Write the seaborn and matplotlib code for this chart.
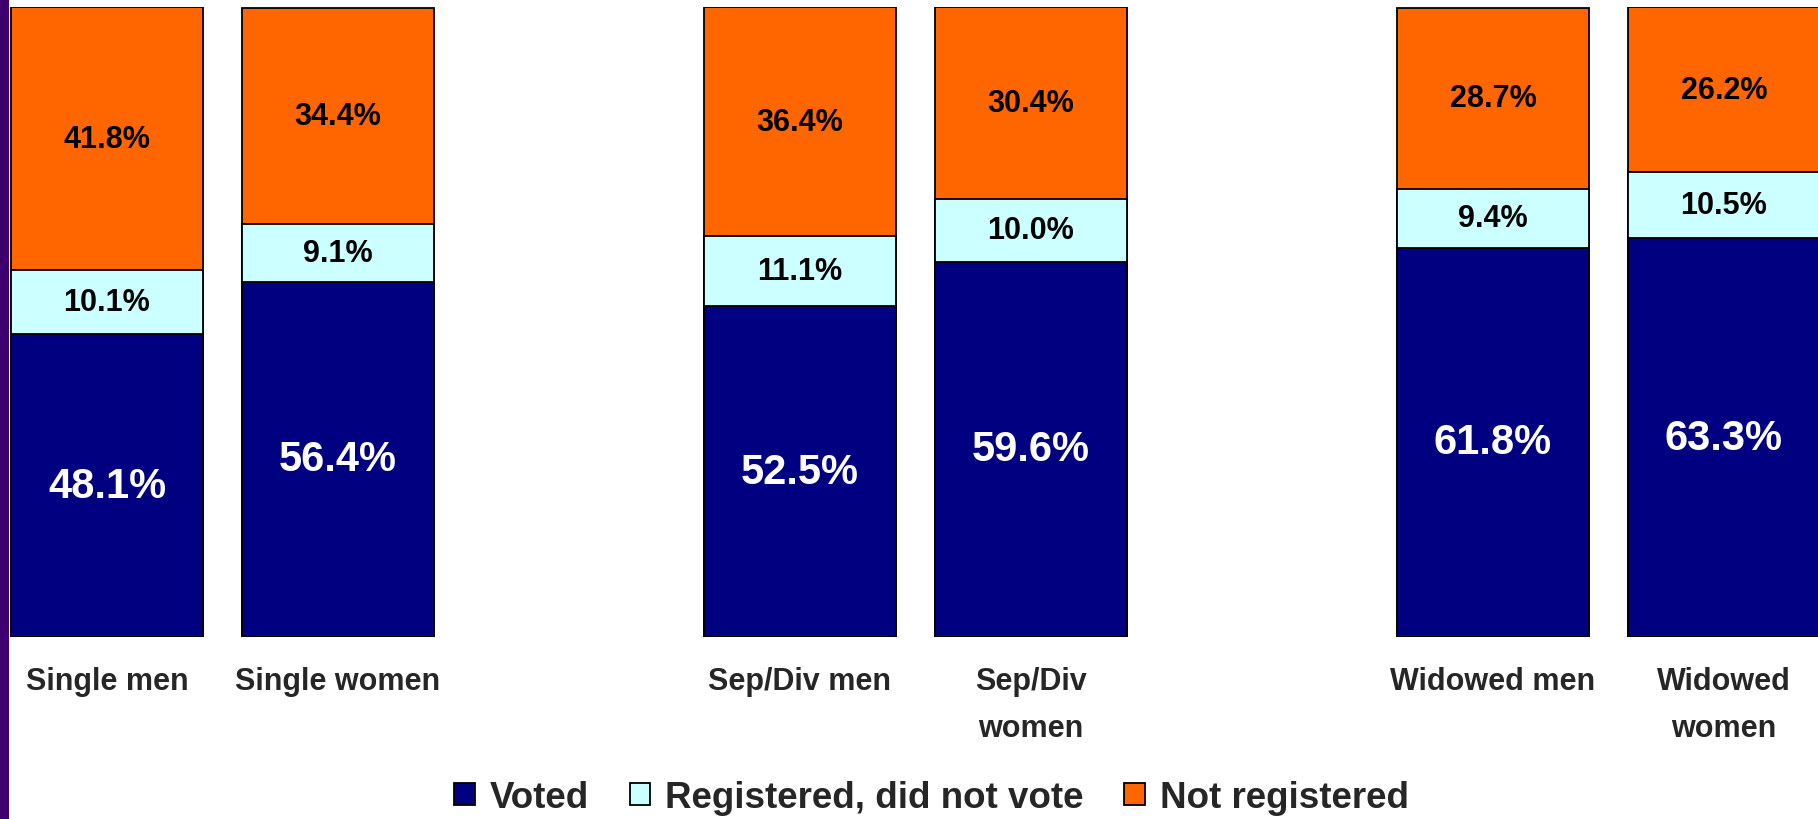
import matplotlib
matplotlib.use("Agg")
import matplotlib.pyplot as plt
from matplotlib.patches import Patch, Rectangle
import numpy as np
import pandas as pd
import seaborn as sns

# Voter participation by marital status and sex (percent)
categories = ["Single men", "Single women", "Sep/Div men", "Sep/Div\nwomen",
              "Widowed men", "Widowed\nwomen"]
voted = [48.1, 56.4, 52.5, 59.6, 61.8, 63.3]
registered_not_voted = [10.1, 9.1, 11.1, 10.0, 9.4, 10.5]
not_registered = [41.8, 34.4, 36.4, 30.4, 28.7, 26.2]
series_names = ["Voted", "Registered, did not vote", "Not registered"]

# Bars are grouped in pairs with an empty slot between groups
slots = [0, 1, 3, 4, 6, 7]

navy = "#000080"
cyan = "#CCFFFF"
orange = "#FF6600"
purple = "#3F006F"

sns.set_theme(style="white")
plt.rcParams["font.family"] = ["Liberation Sans", "DejaVu Sans"]
plt.rcParams["font.weight"] = "bold"

df = pd.DataFrame({
    "slot": slots,
    "category": categories,
    "voted": voted,
    "registered": registered_not_voted,
    "not_registered": not_registered,
})
df["top_registered"] = df["voted"] + df["registered"]
df["top_all"] = df["top_registered"] + df["not_registered"]

fig = plt.figure(figsize=(18.18, 8.2), dpi=100)
ax = fig.add_axes([0.0, 0.222, 1.0, 0.768])

# Stacked bars drawn as overlapping cumulative layers, tallest first
bar_kw = dict(native_scale=True, width=0.83, edgecolor="black", linewidth=1.3,
              errorbar=None, ax=ax, legend=False)
sns.barplot(data=df, x="slot", y="top_all", color=orange, saturation=1, **bar_kw)
sns.barplot(data=df, x="slot", y="top_registered", color=cyan, saturation=1, **bar_kw)
sns.barplot(data=df, x="slot", y="voted", color=navy, saturation=1, **bar_kw)

# Segment labels
for _, r in df.iterrows():
    ax.text(r.slot, r.voted / 2, f"{r.voted:.1f}%", ha="center", va="center",
            color="white", fontsize=30, fontweight="bold")
    ax.text(r.slot, r.voted + r.registered / 2, f"{r.registered:.1f}%",
            ha="center", va="center", color="black", fontsize=22, fontweight="bold")
    ax.text(r.slot, r.top_registered + r.not_registered / 2, f"{r.not_registered:.1f}%",
            ha="center", va="center", color="black", fontsize=22, fontweight="bold")

ax.set_xlim(-0.463, 7.407)
ax.set_ylim(0, 100)
ax.set_xticks(slots)
ax.set_xticklabels(categories, fontsize=22, fontweight="bold", linespacing=1.72)
ax.tick_params(axis="x", length=0, pad=21)
ax.set_yticks([])
ax.set_xlabel("")
ax.set_ylabel("")
for s in ax.spines.values():
    s.set_visible(False)

# Purple strip along the left edge
fig.patches.append(Rectangle((0, 0), 8.5 / 1818, 1, transform=fig.transFigure,
                             facecolor=purple, edgecolor="none", zorder=0))

handles = [Patch(facecolor=c, edgecolor="black", linewidth=1.3)
           for c in (navy, cyan, orange)]
fig.legend(handles, series_names, loc="center", bbox_to_anchor=(0.5125, 0.026),
           ncol=3, frameon=False, handlelength=0.55, handleheight=0.55,
           handletextpad=0.42, columnspacing=1.1, borderpad=0, borderaxespad=0,
           prop={"weight": "bold", "size": 26.5})

fig.savefig("out.png", dpi=100)
